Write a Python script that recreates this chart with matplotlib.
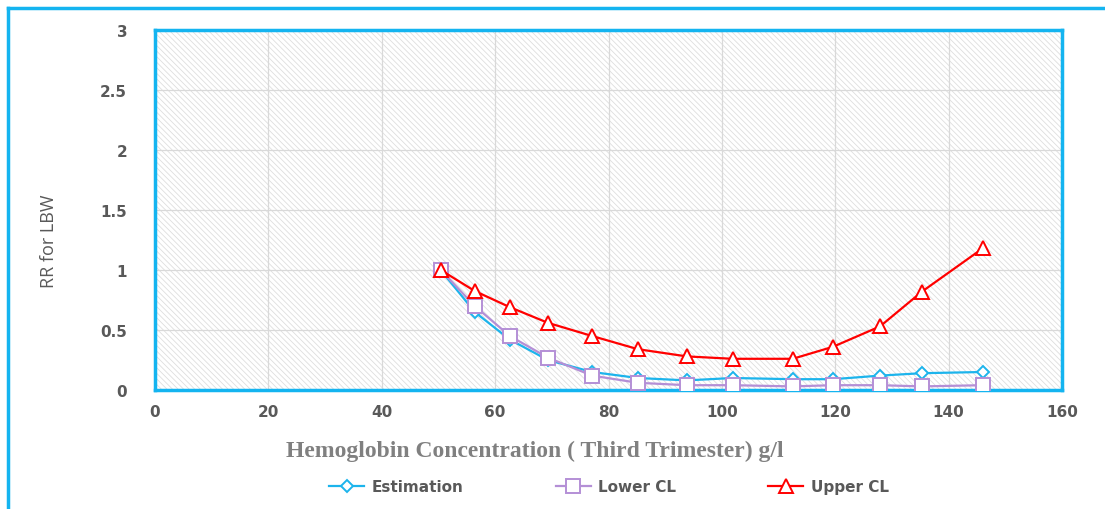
import numpy as np
import matplotlib.pyplot as plt
from matplotlib.lines import Line2D
from matplotlib.patches import Rectangle

# data
hb = [50.4, 56.4, 62.6, 69.3, 77.1, 85.2, 93.8, 101.9, 112.5, 119.6, 127.9, 135.3, 146.0]
estimation = [1.0, 0.65, 0.42, 0.25, 0.15, 0.10, 0.08, 0.10, 0.09, 0.09, 0.12, 0.14, 0.15]
lower_cl = [1.0, 0.70, 0.45, 0.27, 0.12, 0.06, 0.04, 0.04, 0.03, 0.04, 0.04, 0.03, 0.04]
upper_cl = [1.0, 0.825, 0.69, 0.56, 0.45, 0.34, 0.28, 0.26, 0.26, 0.36, 0.53, 0.82, 1.18]

xticks = [0, 20, 40, 60, 80, 100, 120, 140, 160]
yticks = [0, 0.5, 1, 1.5, 2, 2.5, 3]
ytick_labels = ['0', '0.5', '1', '1.5', '2', '2.5', '3']

cyan = '#14b4f0'
gray_txt = '#595959'

plt.rcParams['font.family'] = ['DejaVu Sans']
plt.rcParams['hatch.color'] = '#dedede'
plt.rcParams['hatch.linewidth'] = 0.6

fig = plt.figure(figsize=(11.05, 5.1), dpi=100)
ax = fig.add_axes([155/1105, 1-391/510, (1062-155)/1105, (391-31)/510])

# hatched plot area
ax.add_patch(Rectangle((0, 0), 1, 1, transform=ax.transAxes, facecolor='white',
                       hatch='\\\\\\\\\\\\', edgecolor='#dedede', linewidth=0, zorder=0))

ax.set_xlim(0, 160)
ax.set_ylim(0, 3)
ax.set_xticks(xticks)
ax.set_yticks(yticks)
ax.set_yticklabels(ytick_labels)
ax.grid(True, color='#d9d9d9', linewidth=0.9, zorder=1)
ax.set_axisbelow(True)
ax.tick_params(length=0, labelsize=11, colors=gray_txt)
ax.tick_params(axis='y', pad=20)
ax.tick_params(axis='x', pad=10)
for lab in ax.get_xticklabels() + ax.get_yticklabels():
    lab.set_fontweight('bold')
for s in ax.spines.values():
    s.set_color(cyan)
    s.set_linewidth(2.5)

ax.plot(hb, estimation, color='#1cb4ec', lw=1.6, marker='D', ms=6,
        mfc='white', mec='#1cb4ec', mew=1.4, label='Estimation', zorder=3)
ax.plot(hb, lower_cl, color='#b48fd6', lw=1.6, marker='s', ms=9.5,
        mfc='white', mec='#b48fd6', mew=1.4, label='Lower CL', zorder=3)
ax.plot(hb, upper_cl, color='#ff0000', lw=1.6, marker='^', ms=9.5,
        mfc='white', mec='#ff0000', mew=1.4, label='Upper CL', zorder=4)

fig.text(49/1105, 1-241/510, 'RR for LBW', family=['Open Sans', 'DejaVu Sans'],
         fontsize=13, color=gray_txt, rotation=90, ha='center', va='center')

fig.text(535/1105, 1-451/510, 'Hemoglobin Concentration ( Third Trimester) g/l',
         family='Liberation Serif', fontweight='bold', fontsize=17, color='#808080',
         ha='center', va='center')

fig.legend(loc='center', bbox_to_anchor=(609/1105, 1-488/510), ncol=3, frameon=False,
           prop={'weight': 'bold', 'size': 11}, labelcolor=gray_txt,
           columnspacing=6.0, handlelength=2.3, handletextpad=0.5)

# outer border (left and top only)
fig.add_artist(Line2D([8/1105, 8/1105], [0, 1-9/510], transform=fig.transFigure,
                      color=cyan, lw=2.5))
fig.add_artist(Line2D([8/1105, 1], [1-9/510, 1-9/510], transform=fig.transFigure,
                      color=cyan, lw=2.5))

fig.savefig('out.png', dpi=100)
